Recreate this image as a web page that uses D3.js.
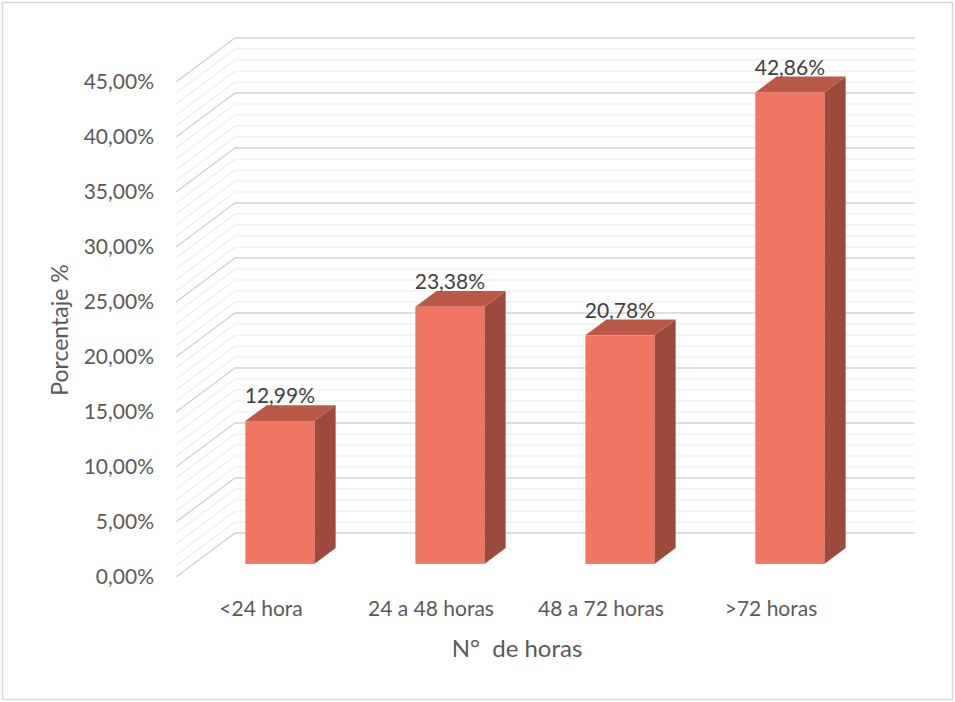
<!DOCTYPE html>
<html>
<head>
<meta charset="utf-8">
<script src="https://cdn.jsdelivr.net/npm/d3@7"></script>
<style>
  html, body { margin: 0; padding: 0; background: #fff; }
  svg text { font-family: Lato, "Open Sans", sans-serif; }
</style>
</head>
<body>
<div id="chart"></div>
<script>
let categories = ['<24 hora', '24 a 48 horas', '48 a 72 horas', '>72 horas'],
    values     = [12.99, 23.38, 20.78, 42.86],
    yTicks     = [0, 5, 10, 15, 20, 25, 30, 35, 40, 45],
    yMinor     = d3.range(0, 46, 1)

const W = 955, H = 702
// depth vector of the 3d box, front -> back wall
const DX = 59, DY = -44
// bars sit in the middle third of the depth
const F0 = 0.32, F1 = 0.68
const floorY = 577

let fmt = v => d3.format('.2f')(v).replace('.', ',') + '%'

let svg = d3.select('#chart').append('svg').attr('width', W).attr('height', H)

svg.append('rect')
  .attr('x', 2.5).attr('y', 2.5).attr('width', W - 5).attr('height', H - 5)
  .attr('fill', '#fff').attr('stroke', '#d9d9d9').attr('stroke-width', 1.5)

let x = d3.scaleBand()
          .domain(categories)
          .range([176, 856])
          .paddingInner(0.594)
          .paddingOuter(0.297)

let h = d3.scaleLinear().domain([0, 45]).range([0, 495])

// point at value v, depth f
let px = (xf, f) => xf + f * DX,
    py = (v, f) => floorY + f * DY - h(v)

let grid = svg.append('g')

let drawGrid = (ticks, stroke, width) => {
  ticks.forEach(t => {
    grid.append('path')
      .attr('d', `M${px(176, 0)},${py(t, 0)}L${px(176, 1)},${py(t, 1)}L${px(856, 1)},${py(t, 1)}`)
      .attr('fill', 'none')
      .attr('stroke', stroke)
      .attr('stroke-width', width)
  })
}
drawGrid(yMinor.filter(t => t % 5 !== 0), '#ececec', 1.2)
drawGrid(yTicks, '#d4d4d4', 1.5)

// y tick labels
svg.append('g').selectAll('text')
  .data(yTicks)
  .enter()
  .append('text')
  .attr('x', 154)
  .attr('y', d => py(d, 0))
  .attr('dy', '0.35em')
  .attr('text-anchor', 'end')
  .attr('fill', '#595959')
  .style('font-size', '21px')
  .text(fmt)

// bars
let bars = svg.append('g').selectAll('g')
  .data(categories.map((c, i) => ({ c, v: values[i] })))
  .enter()
  .append('g')

let dx = (F1 - F0) * DX, dy = (F1 - F0) * DY

bars.each(function(d) {
  let g  = d3.select(this),
      x0 = px(x(d.c), F0),
      x1 = x0 + x.bandwidth(),
      yb = py(0, F0) + 1,
      yt = py(d.v, F0) + 1

  // side
  g.append('path')
    .attr('d', `M${x1},${yt}L${x1 + dx},${yt + dy}L${x1 + dx},${yb + dy}L${x1},${yb}Z`)
    .attr('fill', '#9b4a3c')
  // top
  g.append('path')
    .attr('d', `M${x0},${yt}L${x1},${yt}L${x1 + dx},${yt + dy}L${x0 + dx},${yt + dy}Z`)
    .attr('fill', '#ba5947')
  // front
  g.append('rect')
    .attr('x', x0).attr('y', yt)
    .attr('width', x1 - x0).attr('height', yb - yt)
    .attr('fill', '#f07662')

  g.append('text')
    .attr('x', (x0 + x1) / 2)
    .attr('y', yt + dy - 2)
    .attr('text-anchor', 'middle')
    .attr('fill', '#404040')
    .style('font-size', '21px')
    .text(fmt(d.v))
})

// category labels
svg.append('g').selectAll('text')
  .data(categories)
  .enter()
  .append('text')
  .attr('x', d => x(d) + x.bandwidth() / 2)
  .attr('y', 616)
  .attr('text-anchor', 'middle')
  .attr('fill', '#595959')
  .style('font-size', '21px')
  .text(d => d)

// axis titles
svg.append('text')
  .attr('x', 517).attr('y', 657)
  .attr('text-anchor', 'middle')
  .attr('fill', '#595959')
  .style('font-size', '24px')
  .style('white-space', 'pre')
  .text('N°  de horas')

svg.append('text')
  .attr('transform', 'translate(68,330) rotate(-90)')
  .attr('text-anchor', 'middle')
  .attr('fill', '#595959')
  .style('font-size', '23px')
  .text('Porcentaje %')
</script>
</body>
</html>
